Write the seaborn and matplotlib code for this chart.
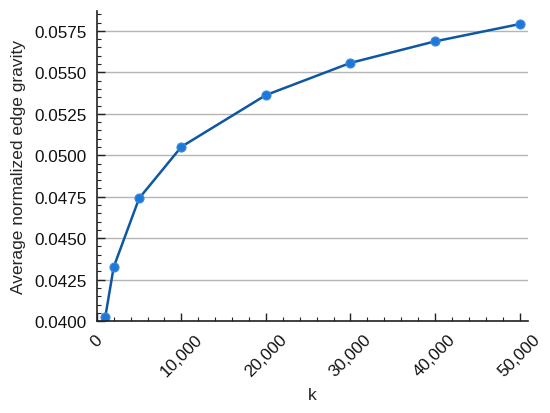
import matplotlib as mpl
mpl.use("Agg")
import matplotlib.pyplot as plt
import matplotlib.ticker as mticker
import pandas as pd
import seaborn as sns

k_values = [1000, 2000, 5000, 10000, 20000, 30000, 40000, 50000]
gravity = [0.04024, 0.04326, 0.04740, 0.05051, 0.05363, 0.05557, 0.05687, 0.05791]
x_ticks = [0, 10000, 20000, 30000, 40000, 50000]
y_ticks = [0.0400, 0.0425, 0.0450, 0.0475, 0.0500, 0.0525, 0.0550, 0.0575]

data = pd.DataFrame({'k': k_values, 'gravity': gravity})

sns.set_style("white")
plt.rcParams['font.family'] = ['Liberation Sans', 'DejaVu Sans']

fig = plt.figure(figsize=(5.5, 4.14), dpi=100)
ax = fig.add_axes([0.176, 0.222, 0.784, 0.749])

sns.lineplot(data, x='k', y='gravity', ax=ax, color='#0d57a3', linewidth=1.8,
             marker='o', markersize=6.5, markerfacecolor='#1f78d8',
             markeredgecolor='#3a8ae0', markeredgewidth=0.8)

ax.set_xlim(0, 51000)
ax.set_ylim(0.0400, 0.0587)
ax.set_xticks(x_ticks)
ax.set_yticks(y_ticks)
ax.xaxis.set_minor_locator(mticker.MultipleLocator(2000))
ax.yaxis.set_minor_locator(mticker.MultipleLocator(0.0005))
ax.xaxis.set_major_formatter(mticker.FuncFormatter(lambda v, p: f"{int(v):,}"))
ax.yaxis.set_major_formatter(mticker.FormatStrFormatter('%.4f'))

ax.grid(axis='y', color='#b5b5b5', linewidth=1.0)
ax.set_axisbelow(True)
for side in ['top', 'right']:
    ax.spines[side].set_visible(False)
for side in ['left', 'bottom']:
    ax.spines[side].set_color('#222222')
    ax.spines[side].set_linewidth(1.2)

ax.tick_params(which='major', direction='in', length=6, width=1, color='#222222',
               labelsize=12.3, labelcolor='#111111', pad=7)
ax.tick_params(which='minor', direction='in', length=3, width=0.8, color='#222222')
ax.tick_params(axis='x', which='both', bottom=True, pad=7.5)
ax.tick_params(axis='y', which='both', left=True)
plt.setp(ax.get_xticklabels(), rotation=45, ha='center')

ax.set_xlabel('k', fontsize=12.5, labelpad=6)
ax.set_ylabel('Average normalized edge gravity', fontsize=12.5, labelpad=6)

fig.savefig('out.png', dpi=100)
